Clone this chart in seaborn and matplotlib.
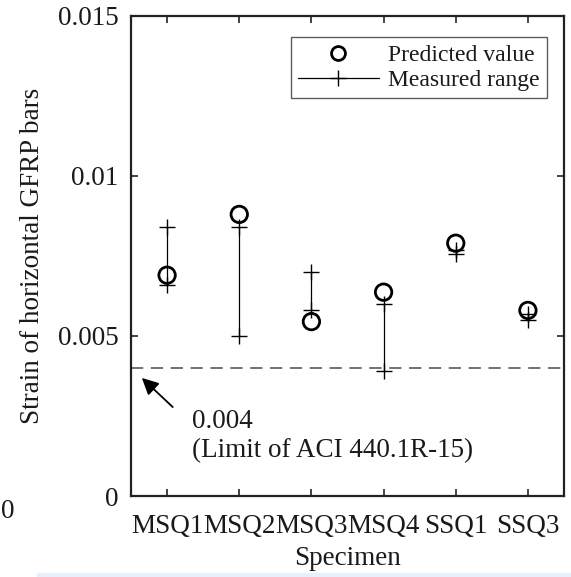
import numpy as np
import pandas as pd
import matplotlib
matplotlib.use("Agg")
import matplotlib.pyplot as plt
from matplotlib.lines import Line2D
from matplotlib.patches import Rectangle
import seaborn as sns

# ---- data ----
specimens = ["MSQ1", "MSQ2", "MSQ3", "MSQ4", "SSQ1", "SSQ3"]
predicted = [0.0069, 0.0088, 0.00545, 0.00637, 0.0079, 0.0058]
measured_low = [0.0066, 0.0050, 0.0058, 0.0039, 0.00755, 0.0055]
measured_high = [0.0084, 0.0084, 0.0070, 0.0060, 0.0077, 0.0057]
aci_limit = 0.004
yticks = [0, 0.005, 0.01, 0.015]
ytick_labels = ["0", "0.005", "0.01", "0.015"]

sns.set_style("white")
plt.rcParams["font.family"] = ["Liberation Serif", "DejaVu Serif"]

FS = 19.5
LFS = 17
TXT = "#1a1a1a"

fig = plt.figure(figsize=(5.71, 5.77), dpi=100)
W, H = 571, 577
ax = fig.add_axes([131 / W, 1 - 496 / H, 433 / W, 480 / H])

pred_df = pd.DataFrame({"Specimen": specimens, "Strain": predicted})
range_df = pd.DataFrame({
    "Specimen": specimens * 2,
    "Strain": measured_low + measured_high,
})

sns.lineplot(data=range_df, x="Specimen", y="Strain", units="Specimen",
             estimator=None, color="black", linewidth=0.9, marker="+",
             markersize=11, markeredgewidth=1.0, markeredgecolor="black",
             ax=ax, legend=False, sort=False)
sns.scatterplot(data=pred_df, x="Specimen", y="Strain", marker="o",
                s=140, facecolor="none", edgecolor="black", linewidth=2.0,
                ax=ax, legend=False, zorder=5)

ax.axhline(aci_limit, color="#4a4a4a", linestyle=(0, (8, 5)), linewidth=1.1,
           zorder=1)

ax.set_xlim(-0.5, len(specimens) - 0.5)
ax.set_ylim(0, 0.015)
ax.set_yticks(yticks)
ax.set_yticklabels(ytick_labels)
ax.set_xticks(range(len(specimens)))
ax.set_xticklabels(specimens)

for s in ax.spines.values():
    s.set_visible(True)
    s.set_color("#222222")
    s.set_linewidth(1.6)

ax.tick_params(axis="both", direction="in", length=5, width=1.2,
               colors="#222222", labelcolor=TXT, labelsize=FS,
               top=True, right=True, bottom=True, left=True)
ax.tick_params(axis="x", pad=13)
ax.tick_params(axis="y", pad=9)

ax.set_xlabel("Specimen", fontsize=FS, color=TXT, labelpad=5)
ax.set_ylabel("Strain of horizontal GFRP bars", fontsize=FS, color=TXT)
ax.yaxis.set_label_coords(-0.198, 0.5)

# annotation
ax.annotate("", xy=(-0.35, 0.00369), xytext=(0.078, 0.00278),
            arrowprops=dict(arrowstyle="-|>,head_length=1.0,head_width=0.5",
                            color="black", lw=1.3, shrinkA=0, shrinkB=0))
ax.text(0.141, 0.182, "0.004\n(Limit of ACI 440.1R-15)",
        transform=ax.transAxes, fontsize=FS, ha="left", va="top", color=TXT,
        linespacing=1.25)

handles = [
    Line2D([], [], linestyle="none", marker="o", markersize=10,
           markerfacecolor="none", markeredgecolor="black",
           markeredgewidth=2.0),
    Line2D([], [], color="black", linewidth=0.9, marker="+", markersize=11,
           markeredgewidth=1.0),
]
leg = ax.legend(handles, ["Predicted value", "Measured range"],
                loc="upper right", bbox_to_anchor=((546.7 - 131) / 433,
                                                   (496 - 37.3) / 480),
                borderaxespad=0, fontsize=LFS, frameon=True, fancybox=False,
                handlelength=3.4, handletextpad=0.4, labelspacing=0.15,
                borderpad=0.3)
leg.get_frame().set_edgecolor("#333333")
leg.get_frame().set_linewidth(1.0)
for t in leg.get_texts():
    t.set_color(TXT)

# crop artefacts of the source picture
fig.patches.append(Rectangle((37 / W, 0), 1 - 37 / W, 4 / H,
                             transform=fig.transFigure, color="#e8f1fb",
                             zorder=0))
fig.text(1 / W, 1 - 512 / H, "0", fontsize=FS, ha="left", va="center",
         color=TXT)

fig.savefig("out.png", dpi=100)
